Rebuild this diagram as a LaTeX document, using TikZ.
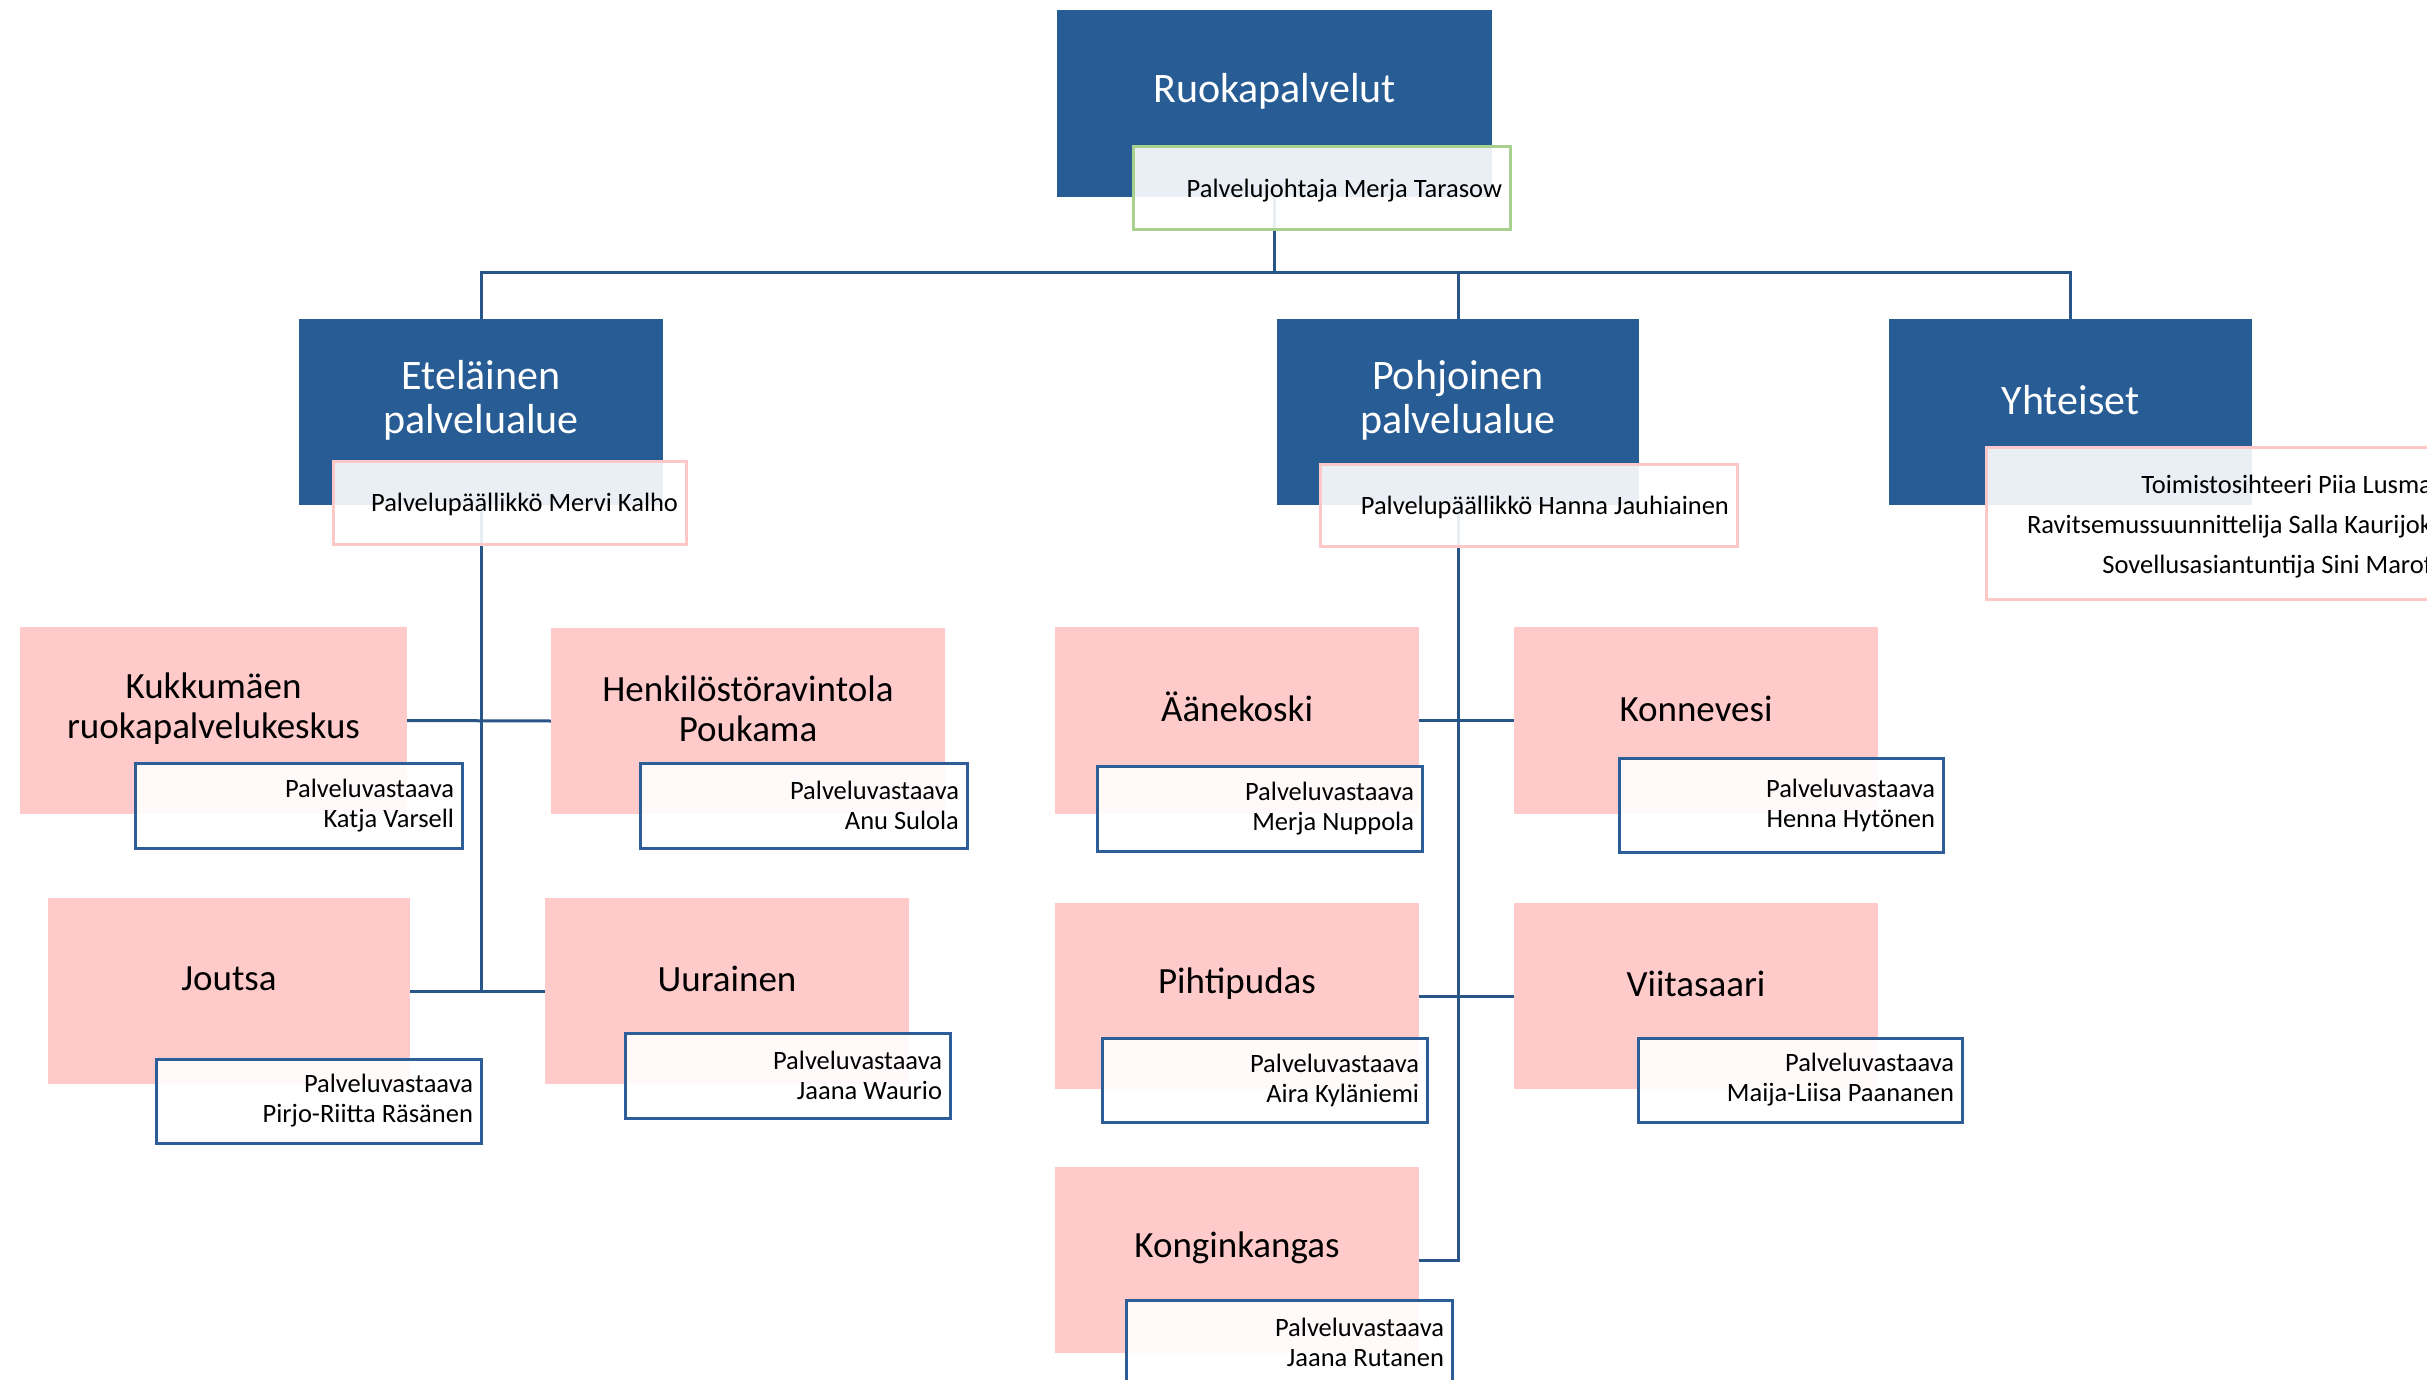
\documentclass[tikz,border=0pt]{standalone}
\usepackage{fontspec}
\setmainfont{Carlito}
\usetikzlibrary{backgrounds}
\definecolor{darkbox}{RGB}{39,92,148}
\definecolor{pinkfill}{RGB}{255,202,202}
\definecolor{connc}{RGB}{40,86,136}
\definecolor{greenb}{RGB}{169,209,142}
\definecolor{pinkb}{RGB}{255,200,200}
\definecolor{blueb}{RGB}{46,94,151}
\begin{document}
\begin{tikzpicture}[x=1pt,y=-1pt,
  lvone/.style={fill=darkbox, draw=none, inner sep=0pt, outer sep=0pt, anchor=north west},
  lvtwo/.style={fill=pinkfill, draw=none, inner sep=0pt, outer sep=0pt, anchor=north west},
  tbox/.style={fill=white, fill opacity=0.9, text opacity=1, line width=3pt, inner xsep=8pt, inner ysep=0pt, outer sep=0pt, anchor=north west, align=flush right, font=\fontsize{26.5}{30}\selectfont},
  tgreen/.style={tbox, draw=greenb},
  tpink/.style={tbox, draw=pinkb},
  tblue/.style={tbox, draw=blueb},
  tone/.style={text=white, align=center, yshift=12pt, inner sep=0pt, font=\fontsize{42}{44}\selectfont},
  ttwo/.style={text=black, align=center, yshift=12pt, inner sep=0pt, font=\fontsize{37}{40}\selectfont},
  conn/.style={draw=connc, line width=3pt}]
\useasboundingbox (0,0) rectangle (2427,1380);

% level 1 boxes
\node[lvone, minimum width=435pt, minimum height=187pt] (ruoka) at (1057,10) {};
\node[lvone, minimum width=364pt, minimum height=186pt] (etel) at (299,319) {};
\node[lvone, minimum width=362pt, minimum height=186pt] (pohj) at (1277,319) {};
\node[lvone, minimum width=363pt, minimum height=186pt] (yht) at (1889,319) {};

\node[tone] (ruoka-t) at (ruoka.center) {Ruokapalvelut};
\node[tone] (etel-t) at (etel.center) {Eteläinen\\palvelualue};
\node[tone] (pohj-t) at (pohj.center) {Pohjoinen\\palvelualue};
\node[tone] (yht-t) at (yht.center) {Yhteiset};

% level 2 boxes
\node[lvtwo, minimum width=387pt, minimum height=187pt] (kukk) at (20,627) {};
\node[lvtwo, minimum width=394pt, minimum height=186pt] (henk) at (551,628) {};
\node[lvtwo, minimum width=362pt, minimum height=186pt] (jout) at (48,898) {};
\node[lvtwo, minimum width=364pt, minimum height=186pt] (uura) at (545,898) {};
\node[lvtwo, minimum width=364pt, minimum height=187pt] (aane) at (1055,627) {};
\node[lvtwo, minimum width=364pt, minimum height=187pt] (konn) at (1514,627) {};
\node[lvtwo, minimum width=364pt, minimum height=186pt] (piht) at (1055,903) {};
\node[lvtwo, minimum width=364pt, minimum height=186pt] (viit) at (1514,903) {};
\node[lvtwo, minimum width=364pt, minimum height=186pt] (kong) at (1055,1167) {};

\node[ttwo] (kukk-t) at (kukk.center) {Kukkumäen\\ruokapalvelukeskus};
\node[ttwo] (henk-t) at (henk.center) {Henkilöstöravintola\\Poukama};
\node[ttwo] (jout-t) at (jout.center) {Joutsa};
\node[ttwo] (uura-t) at (uura.center) {Uurainen};
\node[ttwo, yshift=2pt] (aane-t) at (aane.center) {Äänekoski};
\node[ttwo] (konn-t) at (konn.center) {Konnevesi};
\node[ttwo] (piht-t) at (piht.center) {Pihtipudas};
\node[ttwo] (viit-t) at (viit.center) {Viitasaari};
\node[ttwo] (kong-t) at (kong.center) {Konginkangas};

% text boxes
\node[tgreen, text width=361pt, minimum height=83pt, text depth=0pt] (ruoka-s) at (1133,147) {Palvelujohtaja Merja Tarasow};
\node[tpink, text width=337pt, minimum height=83pt, text depth=0pt] (etel-s) at (333,461) {Palvelupäällikkö Mervi Kalho};
\node[tpink, text width=401pt, minimum height=82pt, text depth=0pt] (pohj-s) at (1320,464) {Palvelupäällikkö Hanna Jauhiainen};
\node[tpink, text width=438pt, minimum height=152pt, font=\fontsize{26.5}{40}\selectfont] (yht-s) at (1986,447) {\rule{0pt}{25pt}Toimistosihteeri Piia Lusma\\Ravitsemussuunnittelija Salla Kaurijok\\Sovellusasiantuntija Sini Marof};

\node[tblue, text width=311pt, minimum height=85pt] (kukk-s) at (135,763) {Palveluvastaava\\Katja Varsell};
\node[tblue, text width=311pt, minimum height=85pt] (henk-s) at (640,763) {Palveluvastaava\\Anu Sulola};
\node[tblue, text width=309pt, minimum height=84pt] (jout-s) at (156,1059) {Palveluvastaava\\Pirjo-Riitta Räsänen};
\node[tblue, text width=309pt, minimum height=85pt] (uura-s) at (625,1033) {Palveluvastaava\\Jaana Waurio};
\node[tblue, text width=309pt, minimum height=85pt] (aane-s) at (1097,766) {Palveluvastaava\\Merja Nuppola};
\node[tblue, text width=308pt, minimum height=94pt] (konn-s) at (1619,758) {Palveluvastaava\\Henna Hytönen};
\node[tblue, text width=309pt, minimum height=84pt] (piht-s) at (1102,1038) {Palveluvastaava\\Aira Kyläniemi};
\node[tblue, text width=308pt, minimum height=84pt] (viit-s) at (1638,1038) {Palveluvastaava\\Maija-Liisa Paananen};
\node[tblue, text width=310pt, minimum height=85pt] (kong-s) at (1126,1300) {Palveluvastaava\\Jaana Rutanen};

\begin{scope}[on background layer]
\fill[white] (0,0) rectangle (2427,1380);
\coordinate (bus) at (1274.5,273);
\draw[conn] (ruoka.south) -- (bus);
\draw[conn] (etel.north) |- (bus) -| (yht.north);
\draw[conn] (pohj.north) -- (pohj.north |- bus);
\draw[conn] (etel.south) -- (etel.south |- jout.east);
\draw[conn] (kukk.east) -- (henk.west);
\draw[conn] (jout.east) -- (uura.west);
\draw[conn] (pohj.south) |- (kong.east);
\draw[conn] (aane.east) -- (konn.west);
\draw[conn] (piht.east) -- (viit.west);
\end{scope}
\end{tikzpicture}
\end{document}
